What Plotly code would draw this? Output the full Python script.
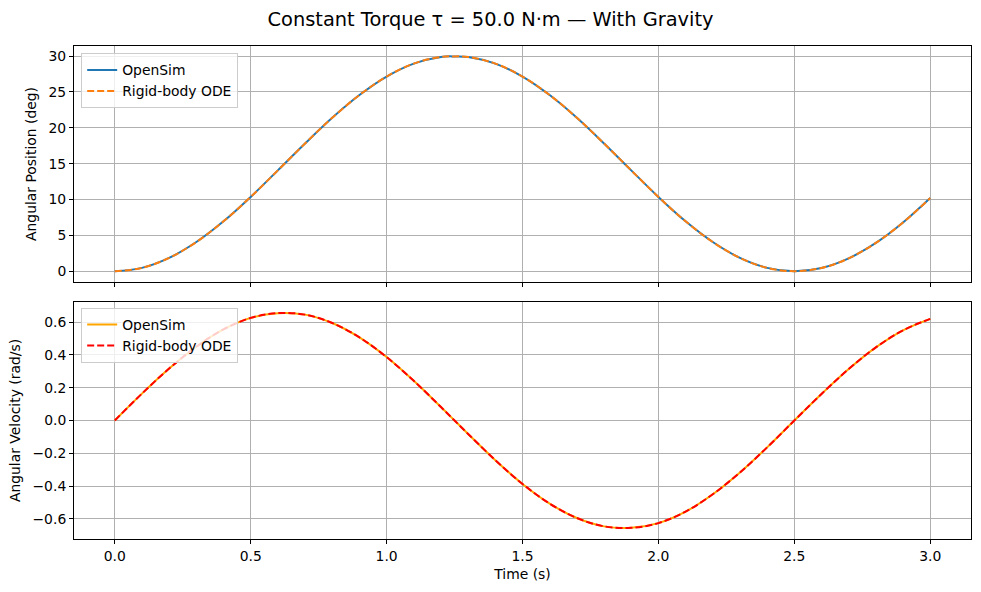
import plotly.graph_objects as go

time_s = [0.0, 0.1, 0.2, 0.3, 0.4, 0.5, 0.6, 0.7, 0.8, 0.9, 1.0, 1.1, 1.2, 1.25, 1.3, 1.4, 1.5,
          1.6, 1.7, 1.8, 1.9, 2.0, 2.1, 2.2, 2.3, 2.4, 2.5, 2.6, 2.7, 2.8, 2.9, 3.0]
pos_opensim = [0.0, 0.47, 1.86, 4.07, 6.96, 10.36, 14.06, 17.81, 21.39, 24.56, 27.14, 28.95,
               29.88, 29.95, 29.88, 28.95, 27.14, 24.56, 21.39, 17.81, 14.06, 10.36, 6.96, 4.07,
               1.86, 0.47, 0.0, 0.45, 1.8, 3.95, 6.8, 10.2]
pos_ode = list(pos_opensim)
vel_opensim = [0.0, 0.164, 0.317, 0.450, 0.556, 0.626, 0.655, 0.646, 0.595, 0.507, 0.387, 0.242,
               0.082, 0.0, -0.082, -0.242, -0.387, -0.507, -0.595, -0.646, -0.655, -0.626,
               -0.556, -0.450, -0.317, -0.164, 0.0, 0.162, 0.314, 0.446, 0.550, 0.620]
vel_ode = list(vel_opensim)

title_text = "Constant Torque τ = 50.0 N·m — With Gravity"
x_ticks = [0.0, 0.5, 1.0, 1.5, 2.0, 2.5, 3.0]
pos_ticks = [0, 5, 10, 15, 20, 25, 30]
vel_ticks = [-0.6, -0.4, -0.2, 0.0, 0.2, 0.4, 0.6]

FONT = "DejaVu Sans"
FS = 13.9
fig = go.Figure()
fig.add_trace(go.Scatter(x=time_s, y=pos_opensim, name="OpenSim", mode="lines", line_shape="spline",
                         line=dict(color="#1f77b4", width=2), xaxis="x", yaxis="y", legend="legend"))
fig.add_trace(go.Scatter(x=time_s, y=pos_ode, name="Rigid-body ODE", mode="lines", line_shape="spline",
                         line=dict(color="#ff7f0e", width=2, dash="7px,3px"), xaxis="x", yaxis="y", legend="legend"))
fig.add_trace(go.Scatter(x=time_s, y=vel_opensim, name="OpenSim", mode="lines", line_shape="spline",
                         line=dict(color="#ffa500", width=2), xaxis="x2", yaxis="y2", legend="legend2"))
fig.add_trace(go.Scatter(x=time_s, y=vel_ode, name="Rigid-body ODE", mode="lines", line_shape="spline",
                         line=dict(color="#ff0000", width=2, dash="7px,3px"), xaxis="x2", yaxis="y2", legend="legend2"))

axis_common = dict(showline=True, linecolor="black", linewidth=1, mirror=True, ticks="outside",
                   ticklen=4, tickcolor="black", showgrid=True, gridcolor="#b0b0b0", gridwidth=1,
                   zeroline=False, tickfont=dict(family=FONT, size=FS, color="black"))

top_dom = [1 - 236 / 493, 1.0]
bot_dom = [0.0, 237 / 493]

def fmt(v):
    s = f"{v:.1f}"
    return s.replace("-", "\u2212")

fig.update_layout(
    width=981, height=592,
    margin=dict(l=73.5, r=10, t=46, b=53),
    paper_bgcolor="white", plot_bgcolor="white",
    font=dict(family=FONT, size=FS, color="black"),
    title=dict(text=title_text, x=0.5, xanchor="center", y=1 - 19 / 592, yanchor="middle",
               font=dict(family=FONT, size=19.4, color="black")),
    xaxis=dict(axis_common, range=[-0.15, 3.15], tickvals=x_ticks, showticklabels=False,
               domain=[0, 1], anchor="y"),
    yaxis=dict(axis_common, range=[-1.5, 31.4], tickvals=pos_ticks, domain=top_dom, anchor="x",
               title=dict(text="Angular Position (deg)", font=dict(family=FONT, size=FS), standoff=8)),
    xaxis2=dict(axis_common, range=[-0.15, 3.15], tickvals=x_ticks, ticktext=[fmt(v) for v in x_ticks],
                domain=[0, 1], anchor="y2",
                title=dict(text="Time (s)", font=dict(family=FONT, size=FS), standoff=6)),
    yaxis2=dict(axis_common, range=[-0.723, 0.723], tickvals=vel_ticks,
                ticktext=[fmt(v) for v in vel_ticks], domain=bot_dom, anchor="x2",
                title=dict(text="Angular Velocity (rad/s)", font=dict(family=FONT, size=FS), standoff=8)),
    legend=dict(x=0.008, y=0.985, xanchor="left", yanchor="top", bgcolor="rgba(255,255,255,0.8)",
                bordercolor="#cccccc", borderwidth=1, font=dict(family=FONT, size=FS),
                tracegroupgap=0, itemwidth=30),
    legend2=dict(x=0.008, y=bot_dom[1] - 0.012, xanchor="left", yanchor="top",
                 bgcolor="rgba(255,255,255,0.8)", bordercolor="#cccccc", borderwidth=1,
                 font=dict(family=FONT, size=FS), tracegroupgap=0, itemwidth=30),
)

fig.write_html("out.html")
